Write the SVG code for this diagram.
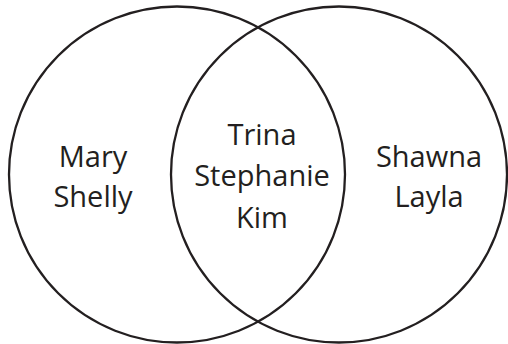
<svg xmlns="http://www.w3.org/2000/svg" width="508" height="344" viewBox="0 0 508 344">
<style>
.c{fill:none;stroke:#231f20;stroke-width:2.3}
.t{font-family:"Open Sans","Noto Sans",sans-serif;font-size:29px;fill:#231f20;text-anchor:middle}
</style>
<rect width="508" height="344" fill="#fff"/>
<g id="left-set">
<circle class="c" cx="177" cy="174.5" r="168"/>
<text class="t" x="93" y="166.5">Mary</text>
<text class="t" x="93" y="207">Shelly</text>
</g>
<g id="right-set">
<circle class="c" cx="339" cy="174.5" r="168"/>
<text class="t" x="429" y="166.5">Shawna</text>
<text class="t" x="429" y="207">Layla</text>
</g>
<g id="intersection">
<text class="t" x="262" y="145">Trina</text>
<text class="t" x="262" y="186">Stephanie</text>
<text class="t" x="262" y="228">Kim</text>
</g>
<g id="connectors"/>
</svg>
